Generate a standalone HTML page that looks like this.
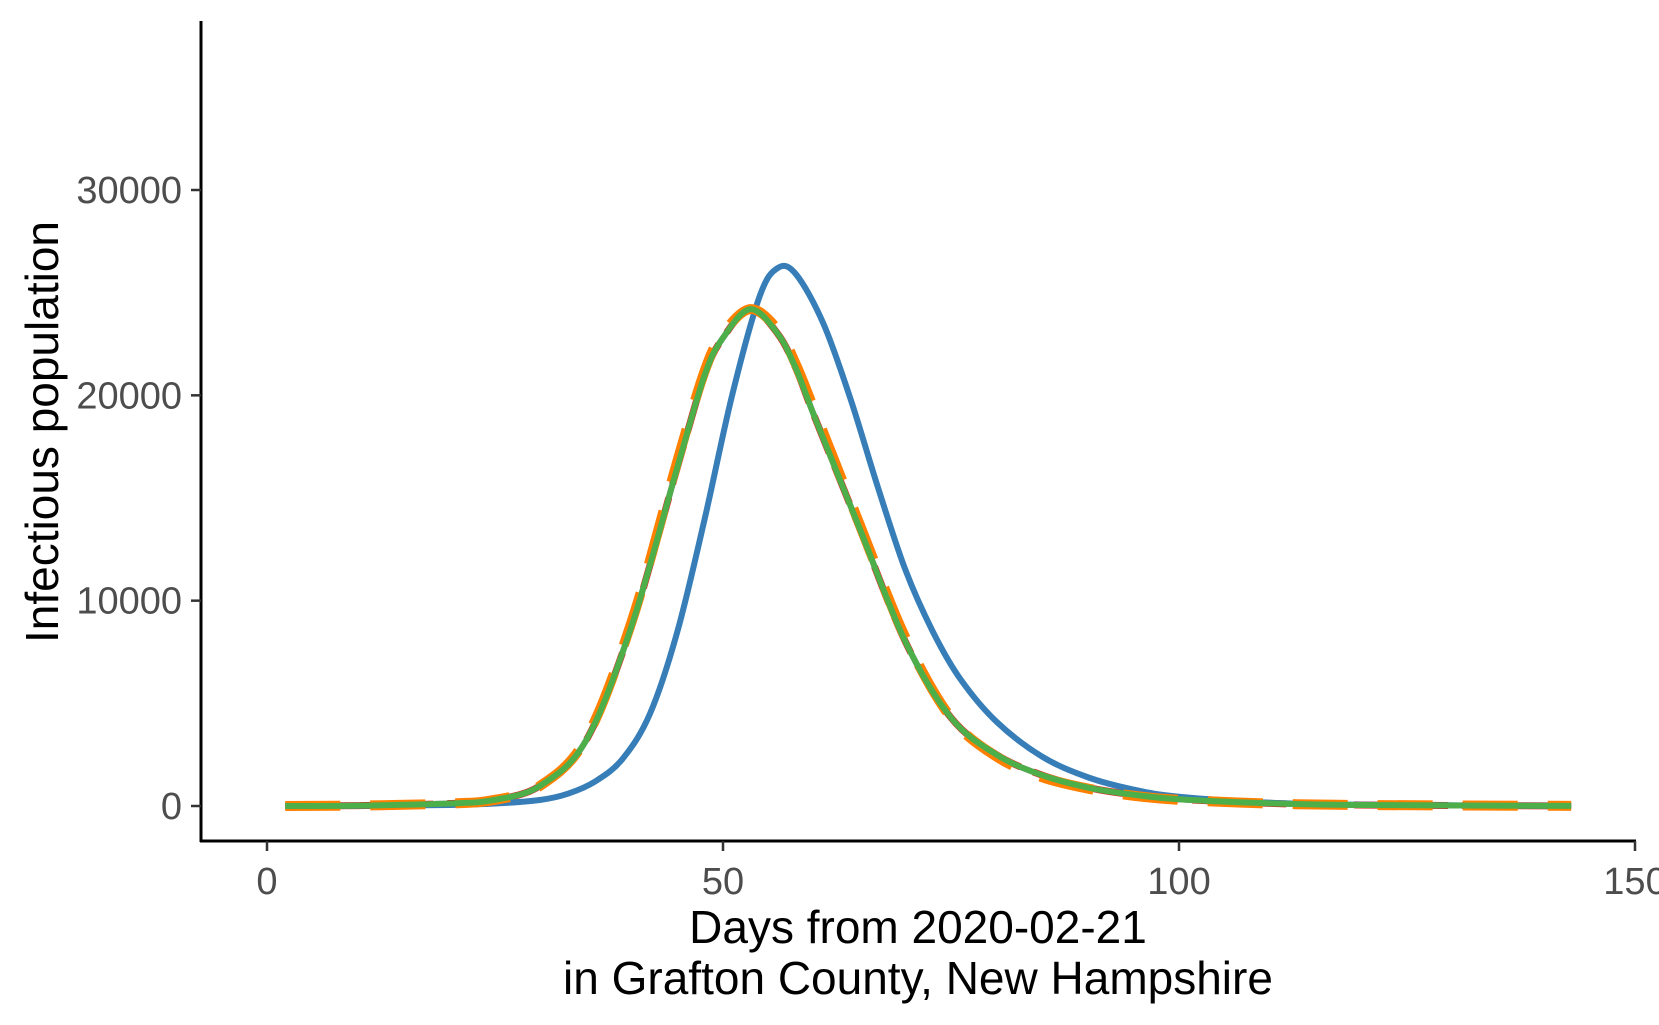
<!DOCTYPE html>
<html><head><meta charset="utf-8"><style>
html,body{margin:0;padding:0;background:#fff;}
svg{display:block;font-family:"Liberation Sans",Arial,sans-serif;}
</style></head><body>
<svg id="chart" width="1659" height="1025">
<g id="plot"></g>
<line x1="201" y1="21" x2="201" y2="842" stroke="#000" stroke-width="3"/>
<line x1="200" y1="841" x2="1636" y2="841" stroke="#000" stroke-width="3"/>
<g id="xticks"></g>
<g id="yticks"></g>
<text x="918" y="943" font-size="46" text-anchor="middle" fill="#000">Days from 2020-02-21</text>
<text x="918" y="994" font-size="46" text-anchor="middle" fill="#000">in Grafton County, New Hampshire</text>
<text transform="translate(58,432) rotate(-90)" font-size="46" text-anchor="middle" fill="#000">Infectious population</text>
</svg>
<script>
const days = [2,10,20,25,30,35,40,45,48,50,53,56,58,60,65,70,75,80,85,90,95,100,110,120,143];
const blueDays = [2,10,20,25,30,33,36,39,42,45,48,51,54,56,58,61,64,67,70,73,76,80,85,90,95,100,110,120,143];
const blueVals = [0,10,50,120,300,600,1200,2300,4500,8500,14000,20000,24800,26200,25900,23500,19800,15500,11500,8500,6200,4100,2400,1400,800,450,160,60,5];
const greenVals = [0,20,120,300,1000,3200,8800,16500,21000,22800,24200,23000,21300,19000,13500,8000,4300,2500,1500,900,550,330,130,50,5];
const redVals = [0,20,120,300,1000,3200,8800,16500,21000,22800,24200,23000,21300,19000,13500,8000,4300,2500,1500,900,550,330,130,50,5];
const orangeVals = [0,20,120,300,1000,3300,9000,16800,21200,23000,24200,23200,21500,19300,13700,8200,4300,2400,1400,850,500,300,120,50,5];
const xTicks = [0,50,100,150];
const yTicks = [0,10000,20000,30000];

const NS = "http://www.w3.org/2000/svg";
function xs(d){ return 267 + (d - 0) * (1635 - 267) / 150; }
function ys(v){ return 806 - v * (806 - 190) / 30000; }

const plot = document.getElementById('plot');
function drawLine(dys, vals, color, width, dash, name){
  const p = document.createElementNS(NS,'path');
  const pts = dys.map((dd,i)=>[xs(dd), ys(vals[i])]);
  let d = 'M' + pts[0][0] + ',' + pts[0][1];
  for(let i=0;i<pts.length-1;i++){
    const p0=pts[Math.max(i-1,0)], p1=pts[i], p2=pts[i+1], p3=pts[Math.min(i+2,pts.length-1)];
    const c1x=p1[0]+(p2[0]-p0[0])/6, c1y=p1[1]+(p2[1]-p0[1])/6;
    const c2x=p2[0]-(p3[0]-p1[0])/6, c2y=p2[1]-(p3[1]-p1[1])/6;
    d += ' C'+c1x+','+c1y+' '+c2x+','+c2y+' '+p2[0]+','+p2[1];
  }
  p.setAttribute('d', d);
  p.setAttribute('fill','none');
  p.setAttribute('stroke', color);
  p.setAttribute('stroke-width', width);
  p.setAttribute('stroke-linejoin','round');
  if(dash) p.setAttribute('stroke-dasharray', dash);
  
  
  plot.appendChild(p);
}
drawLine(days, greenVals, '#984EA3', 6, null, 'series-purple');
drawLine(days, redVals, '#E41A1C', 7, '40,14', 'series-red');
drawLine(blueDays, blueVals, '#377EB8', 6, null, 'series-blue');
drawLine(days, orangeVals, '#FF7F00', 10, '55,30', 'series-orange');
drawLine(days, greenVals, '#4DAF4A', 6, null, 'series-green');

const xg = document.getElementById('xticks');
xTicks.forEach(t=>{
  const l = document.createElementNS(NS,'line');
  l.setAttribute('x1', xs(t)); l.setAttribute('x2', xs(t));
  l.setAttribute('y1', 841); l.setAttribute('y2', 851);
  l.setAttribute('stroke','#333'); l.setAttribute('stroke-width','2.5');
  
  
  xg.appendChild(l);
  const tx = document.createElementNS(NS,'text');
  tx.setAttribute('x', xs(t)); tx.setAttribute('y', 894);
  tx.setAttribute('text-anchor','middle'); tx.setAttribute('font-size','38'); tx.setAttribute('fill','#4d4d4d');
  tx.textContent = t;
  
  
  xg.appendChild(tx);
});
const yg = document.getElementById('yticks');
yTicks.forEach(t=>{
  const l = document.createElementNS(NS,'line');
  l.setAttribute('x1', 191); l.setAttribute('x2', 201);
  l.setAttribute('y1', ys(t)); l.setAttribute('y2', ys(t));
  l.setAttribute('stroke','#333'); l.setAttribute('stroke-width','2.5');
  
  
  yg.appendChild(l);
  const tx = document.createElementNS(NS,'text');
  tx.setAttribute('x', 182); tx.setAttribute('y', ys(t)+13);
  tx.setAttribute('text-anchor','end'); tx.setAttribute('font-size','38'); tx.setAttribute('fill','#4d4d4d');
  tx.textContent = t;
  
  
  yg.appendChild(tx);
});
</script>
</body></html>
